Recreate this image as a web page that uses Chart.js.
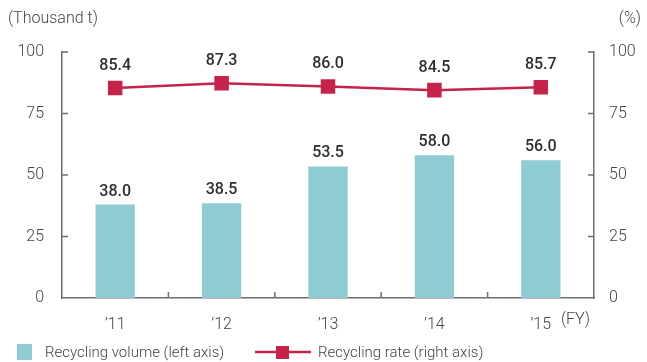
<!DOCTYPE html>
<html>
<head>
<meta charset="utf-8">
<script src="https://cdn.jsdelivr.net/npm/chart.js@4.4.1/dist/chart.umd.min.js"></script>
<style>
  html, body { margin: 0; padding: 0; background: #fff; }
  #wrap { width: 647px; height: 362px; position: relative; }
</style>
</head>
<body>
<div id="wrap"><canvas id="recycleChart"></canvas></div>
<script>
const categories = ["\u201911", "\u201912", "\u201913", "\u201914", "\u201915"];
const volumeValues = [38.0, 38.5, 53.5, 58.0, 56.0];
const rateValues = [85.4, 87.3, 86.0, 84.5, 85.7];
const axisTicks = [0, 25, 50, 75, 100];

const BAR_COLOR = "#8ecbd3";
const LINE_COLOR = "#c4234c";
const AXIS_COLOR = "#6e6e6e";
const TEXT_COLOR = "#444";
const TICK_FONT = { family: "Roboto", size: 16, weight: "300" };

// small inward tick marks on all three axes
const inwardTicks = {
    id: "inwardTicks",
    afterDraw(chart) {
        const { ctx, chartArea: a, scales } = chart;
        ctx.save();
        ctx.strokeStyle = AXIS_COLOR;
        ctx.lineWidth = 1.5;
        ctx.beginPath();
        axisTicks.forEach(v => {
            if (v === 0) return;
            const yl = scales.y.getPixelForValue(v);
            ctx.moveTo(a.left, yl);
            ctx.lineTo(a.left + 6, yl);
            const yr = scales.y2.getPixelForValue(v);
            ctx.moveTo(a.right, yr);
            ctx.lineTo(a.right - 6, yr);
        });
        for (let i = 1; i < categories.length; i++) {
            const px = (scales.x.getPixelForValue(i - 1) + scales.x.getPixelForValue(i)) / 2;
            ctx.moveTo(px, a.bottom);
            ctx.lineTo(px, a.bottom - 6);
        }
        ctx.stroke();
        ctx.restore();
    }
};

// value labels, unit captions and the legend row
const annotations = {
    id: "annotations",
    afterDatasetsDraw(chart) {
        const { ctx } = chart;
        ctx.save();
        ctx.fillStyle = "#2e2e2e";
        ctx.font = "500 16px Roboto";
        ctx.textAlign = "center";
        ctx.textBaseline = "middle";

        chart.getDatasetMeta(1).data.forEach((bar, i) => {
            ctx.fillText(volumeValues[i].toFixed(1), bar.x, bar.y - 13);
        });
        chart.getDatasetMeta(0).data.forEach((pt, i) => {
            ctx.fillText(rateValues[i].toFixed(1), pt.x, pt.y - 22);
        });

        ctx.fillStyle = TEXT_COLOR;
        ctx.font = "300 16px Roboto";
        ctx.textAlign = "left";
        ctx.fillText("(Thousand t)", 8, 19);
        ctx.textAlign = "right";
        ctx.fillText("(%)", 641, 19);
        ctx.textAlign = "left";
        ctx.fillText("(FY)", 561, 320);

        // legend
        ctx.font = "300 15px Roboto";
        ctx.fillStyle = BAR_COLOR;
        ctx.fillRect(17, 344, 15, 16);
        ctx.fillStyle = TEXT_COLOR;
        ctx.fillText("Recycling volume (left axis)", 45, 353);

        ctx.strokeStyle = LINE_COLOR;
        ctx.lineWidth = 2.5;
        ctx.beginPath();
        ctx.moveTo(255, 352);
        ctx.lineTo(311, 352);
        ctx.stroke();
        ctx.fillStyle = LINE_COLOR;
        ctx.fillRect(276, 346, 13, 13);
        ctx.fillStyle = TEXT_COLOR;
        ctx.fillText("Recycling rate (right axis)", 318, 353);
        ctx.restore();
    }
};

function fixedTicks(scale) {
    scale.ticks = axisTicks.map(v => ({ value: v }));
}

const ctx = document.getElementById("recycleChart").getContext("2d");
new Chart(ctx, {
    data: {
        labels: categories,
        datasets: [
            {
                type: "line",
                label: "Recycling rate (right axis)",
                data: rateValues,
                yAxisID: "y2",
                borderColor: LINE_COLOR,
                backgroundColor: LINE_COLOR,
                borderWidth: 2.5,
                pointStyle: "rect",
                pointRadius: 8.5,
                pointHoverRadius: 8.5,
                tension: 0,
                order: 1
            },
            {
                type: "bar",
                label: "Recycling volume (left axis)",
                data: volumeValues,
                yAxisID: "y",
                backgroundColor: BAR_COLOR,
                barPercentage: 0.37,
                categoryPercentage: 1,
                order: 2
            }
        ]
    },
    options: {
        responsive: true,
        maintainAspectRatio: false,
        animation: false,
        layout: { padding: { top: 52, left: 0, right: 0, bottom: 0 } },
        plugins: {
            legend: { display: false },
            tooltip: { enabled: false }
        },
        scales: {
            x: {
                grid: { display: false },
                border: { color: AXIS_COLOR, width: 1.5 },
                ticks: { color: TEXT_COLOR, font: TICK_FONT, padding: 9 },
                afterFit(scale) { scale.height = 64; }
            },
            y: {
                position: "left",
                min: 0,
                max: 100,
                grid: { display: false },
                border: { color: AXIS_COLOR, width: 1.5 },
                ticks: { color: TEXT_COLOR, font: TICK_FONT, padding: 10 },
                afterBuildTicks: fixedTicks,
                afterFit(scale) { scale.width = 62; }
            },
            y2: {
                position: "right",
                min: 0,
                max: 100,
                grid: { display: false },
                border: { color: AXIS_COLOR, width: 1.5 },
                ticks: { color: TEXT_COLOR, font: TICK_FONT, padding: 7 },
                afterBuildTicks: fixedTicks,
                afterFit(scale) { scale.width = 53; }
            }
        }
    },
    plugins: [inwardTicks, annotations]
});
</script>
</body>
</html>
